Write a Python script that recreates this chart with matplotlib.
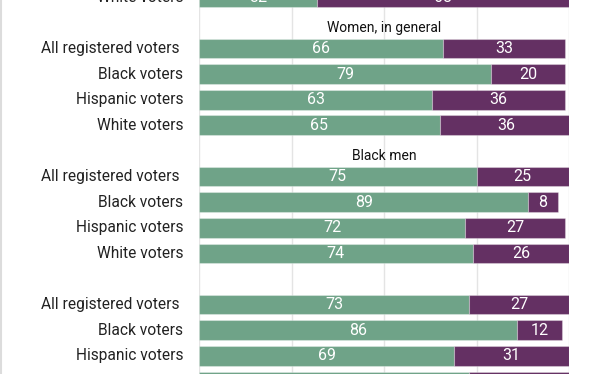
import matplotlib
matplotlib.use('Agg')
import matplotlib.pyplot as plt
from matplotlib.lines import Line2D

plt.rcParams['font.family'] = ['Roboto', 'DejaVu Sans']

# Rows and values (the chart is cropped top and bottom).
voter_groups = ['All registered voters ', 'Black voters', 'Hispanic voters', 'White voters']
headers = ['Women, in general', 'Black men', '']

# last row of the group above the visible area
top_white_yes = 32
top_white_no = 68

women_yes = [66, 79, 63, 65]
women_no = [33, 20, 36, 36]

black_men_yes = [75, 89, 72, 74]
black_men_no = [25, 8, 27, 26]

last_yes = [73, 86, 69, 73]
last_no = [27, 12, 31, 27]

green = '#6fa388'
purple = '#643063'

fig = plt.figure(figsize=(6.12, 3.74), dpi=100)
ax = fig.add_axes([199 / 612, 0, 370 / 612, 1])

# each group takes 5 slots: a header and four rows
rows = [(4, 'White voters', top_white_yes, top_white_no)]
for g, (yes, no) in enumerate([(women_yes, women_no), (black_men_yes, black_men_no), (last_yes, last_no)]):
    base = 5 * (g + 1)
    ax.text(50, base + 0.2, headers[g], ha='center', va='center', fontsize=10, color='#111111')
    for i, label in enumerate(voter_groups):
        rows.append((base + 1 + i, label, yes[i], no[i]))

for y, label, yes, no in rows:
    ax.barh(y, yes, height=0.77, color=green, edgecolor=(1, 1, 1, 0.3), linewidth=0.8, zorder=2)
    ax.barh(y, no, left=yes, height=0.77, color=purple, edgecolor=(1, 1, 1, 0.3), linewidth=0.8, zorder=2)
    ax.text(yes / 2, y, str(yes), ha='center', va='center', color='white', fontsize=11.5, zorder=3)
    ax.text(yes + no / 2, y, str(no), ha='center', va='center', color='white', fontsize=11.5, zorder=3)
    ax.text(-4.2, y, label, ha='right', va='center', color='#222222', fontsize=11.2, clip_on=False)

for x in [0, 25, 50, 75, 100]:
    ax.axvline(x, color='#e4e4e4', linewidth=1, zorder=1)

ax.set_xlim(0, 100)
ax.set_ylim(18.71, 4.105)
ax.axis('off')

fig.add_artist(Line2D([0.001, 0.001], [0, 1], transform=fig.transFigure, color='#dcdcdc', linewidth=1.5))

plt.savefig('out.png', dpi=100)
